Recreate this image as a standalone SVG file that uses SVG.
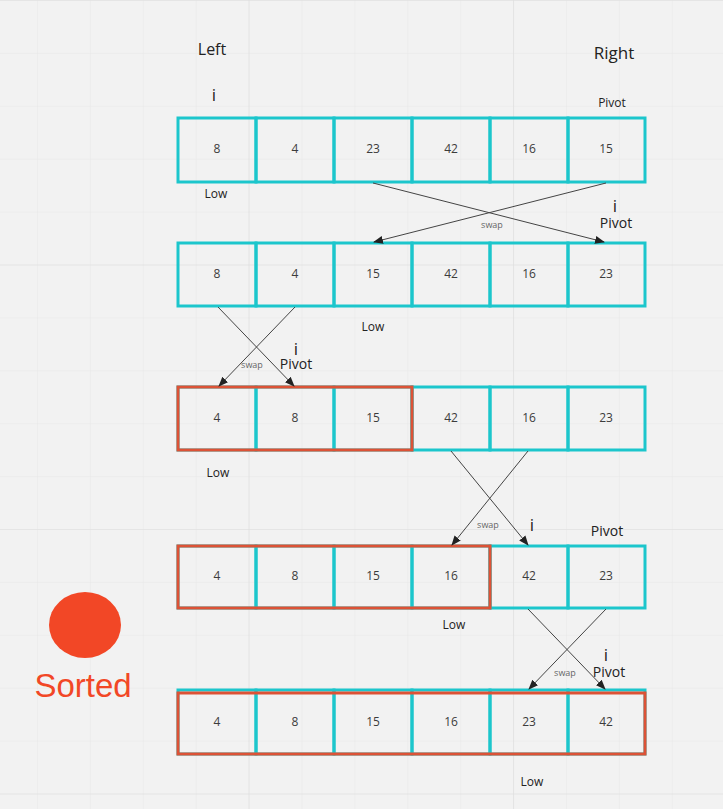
<svg xmlns="http://www.w3.org/2000/svg" width="723" height="809" viewBox="0 0 723 809">
<defs>
<pattern id="minor" patternUnits="userSpaceOnUse" x="37" y="0" width="52.9" height="52.9">
<path d="M0 0H52.9M0 0V52.9" fill="none" stroke="#e8e8e8" stroke-width="1"/>
</pattern>
<pattern id="major" patternUnits="userSpaceOnUse" x="248.5" y="0" width="264.5" height="264.5">
<path d="M0 0H264.5M0 0V264.5" fill="none" stroke="#dedede" stroke-width="1.2"/>
</pattern>
<marker id="ah" markerUnits="userSpaceOnUse" markerWidth="10" markerHeight="10" viewBox="0 0 10 10" refX="9" refY="5" orient="auto">
<path d="M0 1 L10 5 L0 9 Z" fill="#222"/>
</marker>
<style>
.c{fill:none;stroke:#1cc6cc;stroke-width:3}
.r{fill:none;stroke:#dc5236;stroke-width:3}
.n{font-family:"Open Sans","DejaVu Sans",sans-serif;font-size:12px;fill:#3c3c3c;text-anchor:middle}
.lab{font-family:"Open Sans","DejaVu Sans",sans-serif;fill:#222;text-anchor:middle}
.low{font-size:12px}
.ii{font-size:17px}
.sw{font-family:"Open Sans","DejaVu Sans",sans-serif;font-size:9px;fill:#666;text-anchor:middle}
.a{stroke:#444;stroke-width:1;fill:none;marker-end:url(#ah)}
</style>
</defs>
<rect width="723" height="809" fill="#f2f2f2"/>
<rect width="723" height="809" fill="url(#minor)"/>
<rect width="723" height="809" fill="url(#major)"/>

<g id="labels-top">
<text class="lab" x="212" y="55" font-size="16">Left</text>
<text class="lab" x="614" y="59" font-size="17">Right</text>
<text class="lab ii" x="214" y="101">i</text>
<text class="lab" x="612" y="107" font-size="12">Pivot</text>
</g>

<g id="row1">
<g id="r1c0"><rect class="c" x="178" y="118" width="78" height="64"/><text class="n" x="217" y="153">8</text></g>
<g id="r1c1"><rect class="c" x="256" y="118" width="78" height="64"/><text class="n" x="295" y="153">4</text></g>
<g id="r1c2"><rect class="c" x="334" y="118" width="78" height="64"/><text class="n" x="373" y="153">23</text></g>
<g id="r1c3"><rect class="c" x="412" y="118" width="78" height="64"/><text class="n" x="451" y="153">42</text></g>
<g id="r1c4"><rect class="c" x="490" y="118" width="78" height="64"/><text class="n" x="529" y="153">16</text></g>
<g id="r1c5"><rect class="c" x="568" y="118" width="77" height="64"/><text class="n" x="606" y="153">15</text></g>
<text class="lab low" x="216" y="198">Low</text>
</g>

<g id="row2">
<g id="r2c0"><rect class="c" x="178" y="243" width="78" height="63"/><text class="n" x="217" y="278">8</text></g>
<g id="r2c1"><rect class="c" x="256" y="243" width="78" height="63"/><text class="n" x="295" y="278">4</text></g>
<g id="r2c2"><rect class="c" x="334" y="243" width="78" height="63"/><text class="n" x="373" y="278">15</text></g>
<g id="r2c3"><rect class="c" x="412" y="243" width="78" height="63"/><text class="n" x="451" y="278">42</text></g>
<g id="r2c4"><rect class="c" x="490" y="243" width="78" height="63"/><text class="n" x="529" y="278">16</text></g>
<g id="r2c5"><rect class="c" x="568" y="243" width="77" height="63"/><text class="n" x="606" y="278">23</text></g>
<text class="lab ii" x="615" y="212">i</text>
<text class="lab" x="616" y="228" font-size="14">Pivot</text>
<text class="lab low" x="373" y="331">Low</text>
</g>

<g id="row3">
<g id="r3c0"><rect class="c" x="178" y="387" width="78" height="63"/><text class="n" x="217" y="422">4</text></g>
<g id="r3c1"><rect class="c" x="256" y="387" width="78" height="63"/><text class="n" x="295" y="422">8</text></g>
<g id="r3c2"><rect class="c" x="334" y="387" width="78" height="63"/><text class="n" x="373" y="422">15</text></g>
<g id="r3c3"><rect class="c" x="412" y="387" width="78" height="63"/><text class="n" x="451" y="422">42</text></g>
<g id="r3c4"><rect class="c" x="490" y="387" width="78" height="63"/><text class="n" x="529" y="422">16</text></g>
<g id="r3c5"><rect class="c" x="568" y="387" width="77" height="63"/><text class="n" x="606" y="422">23</text></g>
<rect id="r3sorted" class="r" x="178" y="387" width="234" height="63"/>
<text class="lab ii" x="296" y="355">i</text>
<text class="lab" x="296" y="369" font-size="14">Pivot</text>
<text class="lab low" x="218" y="477">Low</text>
</g>

<g id="row4">
<g id="r4c0"><rect class="c" x="178" y="546" width="78" height="62"/><text class="n" x="217" y="580">4</text></g>
<g id="r4c1"><rect class="c" x="256" y="546" width="78" height="62"/><text class="n" x="295" y="580">8</text></g>
<g id="r4c2"><rect class="c" x="334" y="546" width="78" height="62"/><text class="n" x="373" y="580">15</text></g>
<g id="r4c3"><rect class="c" x="412" y="546" width="78" height="62"/><text class="n" x="451" y="580">16</text></g>
<g id="r4c4"><rect class="c" x="490" y="546" width="78" height="62"/><text class="n" x="529" y="580">42</text></g>
<g id="r4c5"><rect class="c" x="568" y="546" width="77" height="62"/><text class="n" x="606" y="580">23</text></g>
<rect id="r4sorted" class="r" x="178" y="546" width="312" height="62"/>
<text class="lab ii" x="532" y="531">i</text>
<text class="lab" x="607" y="536" font-size="14">Pivot</text>
<text class="lab low" x="454" y="629">Low</text>
</g>

<g id="row5">
<g id="r5c0"><rect class="c" x="178" y="690" width="78" height="64"/><text class="n" x="217" y="726">4</text></g>
<g id="r5c1"><rect class="c" x="256" y="690" width="78" height="64"/><text class="n" x="295" y="726">8</text></g>
<g id="r5c2"><rect class="c" x="334" y="690" width="78" height="64"/><text class="n" x="373" y="726">15</text></g>
<g id="r5c3"><rect class="c" x="412" y="690" width="78" height="64"/><text class="n" x="451" y="726">16</text></g>
<g id="r5c4"><rect class="c" x="490" y="690" width="78" height="64"/><text class="n" x="529" y="726">23</text></g>
<g id="r5c5"><rect class="c" x="568" y="690" width="77" height="64"/><text class="n" x="606" y="726">42</text></g>
<rect id="r5sorted" class="r" x="178" y="693" width="467" height="61"/>
<text class="lab ii" x="606" y="661">i</text>
<text class="lab" x="609" y="677" font-size="14">Pivot</text>
<text class="lab low" x="532" y="786">Low</text>
</g>

<g id="connectors">
<line class="a" x1="373" y1="183" x2="604" y2="242"/>
<line class="a" x1="606" y1="183" x2="374" y2="242"/>
<text class="sw" x="492" y="228">swap</text>
<line class="a" x1="218" y1="307" x2="294" y2="386"/>
<line class="a" x1="295" y1="307" x2="219" y2="386"/>
<text class="sw" x="252" y="368">swap</text>
<line class="a" x1="451" y1="451" x2="528" y2="545"/>
<line class="a" x1="528" y1="451" x2="452" y2="545"/>
<text class="sw" x="488" y="528">swap</text>
<line class="a" x1="528" y1="609" x2="605" y2="689"/>
<line class="a" x1="606" y1="609" x2="529" y2="689"/>
<text class="sw" x="565" y="676">swap</text>
</g>

<g id="legend">
<ellipse cx="85" cy="625" rx="36" ry="33" fill="#f24726"/>
<text x="83" y="697" font-family="'Liberation Sans',Arial,sans-serif" font-size="33" fill="#f24726" text-anchor="middle">Sorted</text>
</g>
</svg>
